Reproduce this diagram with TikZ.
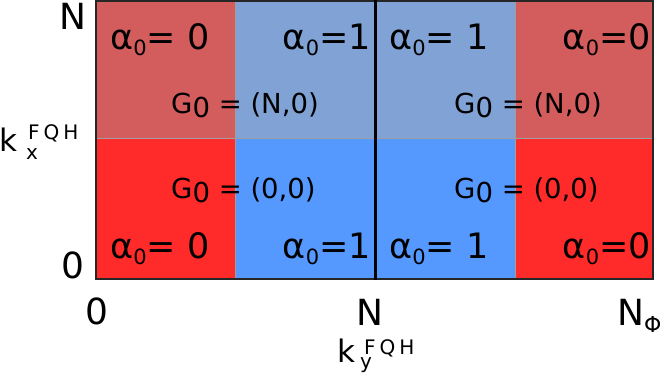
\documentclass[tikz,border=0pt]{standalone}
\usepackage{fontspec}
\setmainfont{DejaVu Sans}
\definecolor{topred}{RGB}{211,92,92}
\definecolor{topblue}{RGB}{128,162,213}
\definecolor{botred}{RGB}{255,42,42}
\definecolor{botblue}{RGB}{85,153,255}
\newcommand\asub[1]{\raisebox{-0.18em}{\scalebox{0.6}{#1}}}
\newcommand\gsub[1]{\raisebox{-4.5pt}{#1}}
\begin{document}
\begin{tikzpicture}[x=1pt,y=-1pt,
  cellline/.style={draw=gray!75, line width=0.9pt},
  alab/.style={inner sep=0pt, font=\fontsize{35}{35}\selectfont},
  glab/.style={inner sep=0pt, font=\fontsize{27.5}{27.5}\selectfont},
  axlab/.style={inner sep=0pt, font=\fontsize{36}{36}\selectfont},
  klab/.style={inner sep=0pt, font=\fontsize{31}{31}\selectfont}]
\useasboundingbox (0,0) rectangle (664,378);
% cells
\fill[topred]  (96,1) rectangle (235,138);
\fill[topblue] (235,1) rectangle (515,138);
\fill[topred]  (515,1) rectangle (653,138);
\fill[botred]  (96,138) rectangle (235,279);
\fill[botblue] (235,138) rectangle (515,279);
\fill[botred]  (515,138) rectangle (653,279);
\draw[cellline] (96,138) -- (653,138);
\draw[cellline] (235,1) -- (235,279);
\draw[cellline] (515,1) -- (515,279);
\draw[draw=black!85, line width=1.6pt] (96,1) rectangle (653,279);
\coordinate (ctop) at (375.5,0);
\coordinate (cbot) at (375.5,279.5);
\draw[black, line width=2.6pt] (ctop) -- (cbot);
% alpha labels
\node[alab, anchor=base west] (a1) at (110,49) {α\asub{0}= 0};
\node[alab, anchor=base east] (a2) at (371,49) {α\asub{0}=1};
\node[alab, anchor=base west] (a3) at (389,49) {α\asub{0}= 1};
\node[alab, anchor=base east] (a4) at (651,49) {α\asub{0}=0};
\node[alab, anchor=base west] (a5) at (110,258) {α\asub{0}= 0};
\node[alab, anchor=base east] (a6) at (371,258) {α\asub{0}=1};
\node[alab, anchor=base west] (a7) at (389,258) {α\asub{0}= 1};
\node[alab, anchor=base east] (a8) at (651,258) {α\asub{0}=0};
% G labels
\node[glab, anchor=base west] (g1) at (171,113) {G\gsub{0} = (N,0)};
\node[glab, anchor=base west] (g2) at (454,113) {G\gsub{0} = (N,0)};
\node[glab, anchor=base west] (g3) at (171,198) {G\gsub{0} = (0,0)};
\node[glab, anchor=base west] (g4) at (454,198) {G\gsub{0} = (0,0)};
% axis labels
\node[axlab, anchor=base] (ln) at (73,29) {N};
\node[axlab, anchor=base] (l0) at (73,278) {0};
\node[axlab, anchor=base] (b0) at (96.5,324) {0};
\node[axlab, anchor=base] (bn) at (370,325) {N};
\node[axlab, anchor=base west] (bnphi) at (617,325) {N\raisebox{-7pt}{\fontsize{22}{22}\selectfont Φ}};
\node[klab, anchor=base west] (kx) at (-1,151) {k\kern9pt\rlap{\raisebox{-8.5pt}{\fontsize{20}{20}\selectfont x}}\kern2pt\raisebox{12pt}{\fontsize{20}{20}\selectfont F\kern4pt Q\kern4pt H}};
\node[klab, anchor=base west] (ky) at (337,362) {k\kern5pt\rlap{\raisebox{-6.5pt}{\fontsize{20}{20}\selectfont y}}\kern4pt\raisebox{8pt}{\fontsize{20}{20}\selectfont F\kern4pt Q\kern4pt H}};
\end{tikzpicture}
\end{document}
